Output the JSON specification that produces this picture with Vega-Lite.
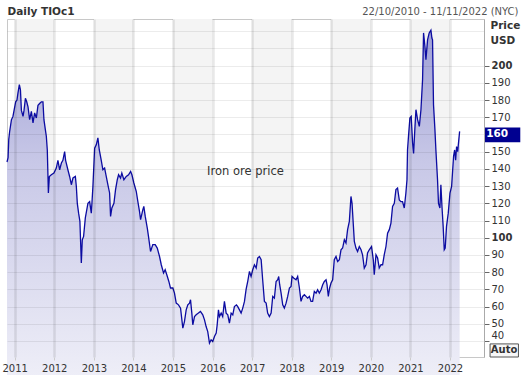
{
  "$schema": "https://vega.github.io/schema/vega-lite/v6.json",
  "width": 477,
  "height": 338,
  "autosize": {"type": "none"},
  "padding": {"left": 7, "top": 19, "right": 37, "bottom": 18},
  "background": "white",
  "config": {"font": "DejaVu Sans", "view": {"stroke": "#c8c8c8", "strokeWidth": 1}},
  "datasets": {
    "bands": [
      {"start": "2011-01-01", "end": "2012-01-01"},
      {"start": "2013-01-01", "end": "2014-01-01"},
      {"start": "2015-01-01", "end": "2016-01-01"},
      {"start": "2017-01-01", "end": "2018-01-01"},
      {"start": "2019-01-01", "end": "2020-01-01"},
      {"start": "2021-01-01", "end": "2022-01-01"}
    ],
    "prices": [
      {"date": "2010-10-22", "price": 144},
      {"date": "2010-11-01", "price": 146.5},
      {"date": "2010-11-07", "price": 157},
      {"date": "2010-11-16", "price": 162},
      {"date": "2010-12-02", "price": 168.6},
      {"date": "2010-12-16", "price": 170.5},
      {"date": "2011-01-10", "price": 179},
      {"date": "2011-01-22", "price": 180},
      {"date": "2011-01-31", "price": 184},
      {"date": "2011-02-13", "price": 189},
      {"date": "2011-02-23", "price": 186},
      {"date": "2011-03-04", "price": 174},
      {"date": "2011-03-19", "price": 170.5},
      {"date": "2011-03-28", "price": 174},
      {"date": "2011-04-10", "price": 181},
      {"date": "2011-04-22", "price": 179},
      {"date": "2011-05-04", "price": 176},
      {"date": "2011-05-19", "price": 168.6},
      {"date": "2011-06-04", "price": 173.4},
      {"date": "2011-06-19", "price": 166.7},
      {"date": "2011-07-04", "price": 172.5},
      {"date": "2011-07-20", "price": 169.6},
      {"date": "2011-08-04", "price": 177},
      {"date": "2011-08-19", "price": 178},
      {"date": "2011-09-04", "price": 179},
      {"date": "2011-09-19", "price": 179},
      {"date": "2011-09-28", "price": 168.6},
      {"date": "2011-10-11", "price": 162.8},
      {"date": "2011-10-20", "price": 159},
      {"date": "2011-10-29", "price": 151},
      {"date": "2011-11-08", "price": 126},
      {"date": "2011-11-17", "price": 135.6},
      {"date": "2011-12-05", "price": 136.6},
      {"date": "2011-12-29", "price": 137.6},
      {"date": "2012-01-20", "price": 140.5},
      {"date": "2012-02-04", "price": 145},
      {"date": "2012-02-20", "price": 139.5},
      {"date": "2012-03-07", "price": 143.4},
      {"date": "2012-03-21", "price": 145},
      {"date": "2012-04-06", "price": 150},
      {"date": "2012-04-15", "price": 145},
      {"date": "2012-05-06", "price": 139.5},
      {"date": "2012-05-22", "price": 135.6},
      {"date": "2012-06-07", "price": 130.8},
      {"date": "2012-06-22", "price": 134.7},
      {"date": "2012-07-14", "price": 135.6},
      {"date": "2012-07-23", "price": 129.8},
      {"date": "2012-08-01", "price": 120},
      {"date": "2012-08-13", "price": 114.3},
      {"date": "2012-08-25", "price": 109.5},
      {"date": "2012-09-07", "price": 85.3},
      {"date": "2012-09-16", "price": 98.8},
      {"date": "2012-09-28", "price": 100.8},
      {"date": "2012-10-14", "price": 111.5},
      {"date": "2012-11-07", "price": 120},
      {"date": "2012-11-23", "price": 121},
      {"date": "2012-12-08", "price": 114.3},
      {"date": "2012-12-14", "price": 120},
      {"date": "2012-12-23", "price": 129.8},
      {"date": "2013-01-08", "price": 152},
      {"date": "2013-01-23", "price": 154},
      {"date": "2013-02-07", "price": 158},
      {"date": "2013-02-20", "price": 151},
      {"date": "2013-03-10", "price": 145},
      {"date": "2013-03-25", "price": 139.5},
      {"date": "2013-04-10", "price": 140.5},
      {"date": "2013-04-25", "price": 135.6},
      {"date": "2013-05-10", "price": 130.8},
      {"date": "2013-05-26", "price": 126},
      {"date": "2013-06-04", "price": 112.4},
      {"date": "2013-06-16", "price": 117.3},
      {"date": "2013-07-05", "price": 120},
      {"date": "2013-07-20", "price": 128},
      {"date": "2013-08-05", "price": 133.7},
      {"date": "2013-08-17", "price": 136.6},
      {"date": "2013-09-04", "price": 134.7},
      {"date": "2013-09-16", "price": 137.6},
      {"date": "2013-10-05", "price": 133.7},
      {"date": "2013-10-27", "price": 135.6},
      {"date": "2013-11-17", "price": 136.6},
      {"date": "2013-12-06", "price": 138.5},
      {"date": "2013-12-18", "price": 136.6},
      {"date": "2014-01-05", "price": 131.8},
      {"date": "2014-01-27", "price": 127},
      {"date": "2014-02-11", "price": 121},
      {"date": "2014-02-26", "price": 115.3},
      {"date": "2014-03-08", "price": 110.5},
      {"date": "2014-03-29", "price": 116.3},
      {"date": "2014-04-07", "price": 118.2},
      {"date": "2014-04-20", "price": 112.4},
      {"date": "2014-05-09", "price": 105.6},
      {"date": "2014-05-20", "price": 100.8},
      {"date": "2014-06-08", "price": 92},
      {"date": "2014-06-29", "price": 96},
      {"date": "2014-07-21", "price": 96},
      {"date": "2014-08-09", "price": 94},
      {"date": "2014-08-30", "price": 89.1},
      {"date": "2014-09-15", "price": 84.3},
      {"date": "2014-10-06", "price": 79.5},
      {"date": "2014-10-21", "price": 81.4},
      {"date": "2014-11-05", "price": 78.5},
      {"date": "2014-11-24", "price": 74.6},
      {"date": "2014-12-09", "price": 70.8},
      {"date": "2014-12-31", "price": 70.8},
      {"date": "2015-01-15", "price": 67.8},
      {"date": "2015-01-31", "price": 62},
      {"date": "2015-02-21", "price": 61},
      {"date": "2015-03-12", "price": 59.1},
      {"date": "2015-04-02", "price": 47.5},
      {"date": "2015-04-17", "price": 51.3},
      {"date": "2015-05-03", "price": 58.1},
      {"date": "2015-05-18", "price": 61},
      {"date": "2015-06-03", "price": 62},
      {"date": "2015-06-12", "price": 64},
      {"date": "2015-06-24", "price": 56.2},
      {"date": "2015-07-03", "price": 49.4},
      {"date": "2015-07-19", "price": 54.2},
      {"date": "2015-08-03", "price": 55.2},
      {"date": "2015-08-24", "price": 56.2},
      {"date": "2015-09-12", "price": 57.2},
      {"date": "2015-10-03", "price": 55.2},
      {"date": "2015-10-19", "price": 52.3},
      {"date": "2015-11-03", "price": 48.4},
      {"date": "2015-11-18", "price": 45.5},
      {"date": "2015-12-04", "price": 38.8},
      {"date": "2015-12-19", "price": 40.7},
      {"date": "2016-01-03", "price": 39.7},
      {"date": "2016-01-19", "price": 42.6},
      {"date": "2016-02-04", "price": 44.6},
      {"date": "2016-02-13", "price": 49.4},
      {"date": "2016-02-25", "price": 58.1},
      {"date": "2016-03-05", "price": 54.2},
      {"date": "2016-03-21", "price": 56.2},
      {"date": "2016-04-04", "price": 54.2},
      {"date": "2016-04-20", "price": 63},
      {"date": "2016-05-06", "price": 56.2},
      {"date": "2016-05-21", "price": 55.2},
      {"date": "2016-06-05", "price": 50.4},
      {"date": "2016-06-21", "price": 56.2},
      {"date": "2016-07-06", "price": 55.2},
      {"date": "2016-07-21", "price": 60},
      {"date": "2016-08-09", "price": 61},
      {"date": "2016-08-21", "price": 60},
      {"date": "2016-09-06", "price": 58.1},
      {"date": "2016-09-21", "price": 56.2},
      {"date": "2016-10-06", "price": 59.1},
      {"date": "2016-10-22", "price": 63},
      {"date": "2016-11-06", "price": 70},
      {"date": "2016-11-22", "price": 75},
      {"date": "2016-12-07", "price": 80.4},
      {"date": "2016-12-22", "price": 77.5},
      {"date": "2017-01-06", "price": 81.4},
      {"date": "2017-01-22", "price": 84.3},
      {"date": "2017-02-07", "price": 82.4},
      {"date": "2017-02-21", "price": 88.2},
      {"date": "2017-03-09", "price": 89.1},
      {"date": "2017-03-25", "price": 87.2},
      {"date": "2017-04-08", "price": 75.6},
      {"date": "2017-04-24", "price": 63},
      {"date": "2017-05-10", "price": 62},
      {"date": "2017-05-24", "price": 56.2},
      {"date": "2017-06-09", "price": 54.2},
      {"date": "2017-06-25", "price": 56.2},
      {"date": "2017-07-10", "price": 65.9},
      {"date": "2017-07-25", "price": 64.9},
      {"date": "2017-08-10", "price": 74.6},
      {"date": "2017-08-25", "price": 75.6},
      {"date": "2017-09-03", "price": 77.5},
      {"date": "2017-09-12", "price": 72.7},
      {"date": "2017-09-25", "price": 67.8},
      {"date": "2017-10-10", "price": 61},
      {"date": "2017-10-25", "price": 59.1},
      {"date": "2017-11-10", "price": 62},
      {"date": "2017-11-25", "price": 65.9},
      {"date": "2017-12-11", "price": 70.8},
      {"date": "2017-12-26", "price": 71.7},
      {"date": "2018-01-04", "price": 77.5},
      {"date": "2018-01-19", "price": 76.6},
      {"date": "2018-02-10", "price": 75.6},
      {"date": "2018-02-25", "price": 77.5},
      {"date": "2018-03-13", "price": 70.8},
      {"date": "2018-03-28", "price": 63},
      {"date": "2018-04-12", "price": 65.9},
      {"date": "2018-04-28", "price": 66.9},
      {"date": "2018-05-13", "price": 65.9},
      {"date": "2018-05-28", "price": 64.9},
      {"date": "2018-06-13", "price": 65.9},
      {"date": "2018-06-28", "price": 63},
      {"date": "2018-07-13", "price": 63},
      {"date": "2018-07-29", "price": 68.8},
      {"date": "2018-08-14", "price": 67.8},
      {"date": "2018-08-28", "price": 69.8},
      {"date": "2018-09-13", "price": 67.8},
      {"date": "2018-09-29", "price": 69.8},
      {"date": "2018-10-14", "price": 72.7},
      {"date": "2018-10-29", "price": 74.6},
      {"date": "2018-11-14", "price": 75.6},
      {"date": "2018-11-23", "price": 72.7},
      {"date": "2018-12-05", "price": 65.9},
      {"date": "2018-12-17", "price": 70.8},
      {"date": "2018-12-30", "price": 73.7},
      {"date": "2019-01-14", "price": 75.6},
      {"date": "2019-01-29", "price": 87.2},
      {"date": "2019-02-14", "price": 89.1},
      {"date": "2019-03-01", "price": 86.2},
      {"date": "2019-03-17", "price": 87.2},
      {"date": "2019-04-01", "price": 93},
      {"date": "2019-04-16", "price": 94},
      {"date": "2019-05-02", "price": 98.8},
      {"date": "2019-05-17", "price": 96.9},
      {"date": "2019-06-01", "price": 104.7},
      {"date": "2019-06-17", "price": 109.5},
      {"date": "2019-07-02", "price": 124},
      {"date": "2019-07-12", "price": 120},
      {"date": "2019-07-21", "price": 110.5},
      {"date": "2019-08-02", "price": 97.9},
      {"date": "2019-08-17", "price": 94},
      {"date": "2019-09-01", "price": 92},
      {"date": "2019-09-17", "price": 94.9},
      {"date": "2019-10-03", "price": 93},
      {"date": "2019-10-17", "price": 90.1},
      {"date": "2019-11-02", "price": 82.4},
      {"date": "2019-11-18", "price": 84.3},
      {"date": "2019-12-02", "price": 91.1},
      {"date": "2019-12-18", "price": 93},
      {"date": "2020-01-08", "price": 94.9},
      {"date": "2020-01-24", "price": 87.2},
      {"date": "2020-02-02", "price": 78.5},
      {"date": "2020-02-18", "price": 90.1},
      {"date": "2020-03-04", "price": 88.2},
      {"date": "2020-03-19", "price": 82.4},
      {"date": "2020-04-04", "price": 84.3},
      {"date": "2020-04-19", "price": 84.3},
      {"date": "2020-05-04", "price": 90.1},
      {"date": "2020-05-20", "price": 94.9},
      {"date": "2020-06-04", "price": 102.7},
      {"date": "2020-06-20", "price": 104.7},
      {"date": "2020-07-05", "price": 108.5},
      {"date": "2020-07-20", "price": 118.2},
      {"date": "2020-08-05", "price": 120},
      {"date": "2020-08-20", "price": 128},
      {"date": "2020-09-04", "price": 128.9},
      {"date": "2020-09-20", "price": 122},
      {"date": "2020-10-05", "price": 121},
      {"date": "2020-10-20", "price": 121},
      {"date": "2020-11-05", "price": 117.3},
      {"date": "2020-11-20", "price": 126},
      {"date": "2020-11-30", "price": 133.7},
      {"date": "2020-12-05", "price": 151},
      {"date": "2020-12-14", "price": 158.9},
      {"date": "2020-12-27", "price": 169.6},
      {"date": "2021-01-08", "price": 170.5},
      {"date": "2021-01-21", "price": 155},
      {"date": "2021-01-30", "price": 149},
      {"date": "2021-02-12", "price": 164.7},
      {"date": "2021-02-21", "price": 174.4},
      {"date": "2021-03-08", "price": 168.6},
      {"date": "2021-03-24", "price": 164.7},
      {"date": "2021-04-08", "price": 174.4},
      {"date": "2021-04-23", "price": 191.9},
      {"date": "2021-05-02", "price": 219},
      {"date": "2021-05-15", "price": 211},
      {"date": "2021-05-24", "price": 203.5},
      {"date": "2021-06-08", "price": 215},
      {"date": "2021-06-23", "price": 219},
      {"date": "2021-07-09", "price": 220.6},
      {"date": "2021-07-18", "price": 216},
      {"date": "2021-07-24", "price": 215},
      {"date": "2021-08-02", "price": 177.3},
      {"date": "2021-08-15", "price": 162.8},
      {"date": "2021-08-24", "price": 151},
      {"date": "2021-09-08", "price": 133.7},
      {"date": "2021-09-17", "price": 120},
      {"date": "2021-09-30", "price": 117.3},
      {"date": "2021-10-09", "price": 130.8},
      {"date": "2021-10-19", "price": 118.2},
      {"date": "2021-10-30", "price": 106.6},
      {"date": "2021-11-09", "price": 93},
      {"date": "2021-11-18", "price": 94},
      {"date": "2021-11-30", "price": 106.6},
      {"date": "2021-12-16", "price": 114.3},
      {"date": "2022-01-01", "price": 126},
      {"date": "2022-01-16", "price": 129.8},
      {"date": "2022-01-25", "price": 138.5},
      {"date": "2022-02-03", "price": 147.3},
      {"date": "2022-02-13", "price": 151},
      {"date": "2022-02-22", "price": 145},
      {"date": "2022-03-03", "price": 153},
      {"date": "2022-03-13", "price": 150},
      {"date": "2022-03-22", "price": 156},
      {"date": "2022-03-31", "price": 161.8}
    ]
  },
  "resolve": {"axis": {"x": "independent", "y": "independent"}},
  "layer": [
    {
      "data": {"name": "bands"},
      "mark": {"type": "rect", "color": "#f4f4f4"},
      "encoding": {
        "x": {
          "field": "start", "type": "temporal",
          "scale": {"type": "utc", "domain": [{"year": 2010, "month": 10, "date": 22, "utc": true}, {"year": 2022, "month": 11, "date": 11, "utc": true}]},
          "axis": {
            "orient": "bottom", "format": "%Y", "formatType": "utc",
            "tickCount": {"interval": "year", "step": 1},
            "grid": true, "gridColor": "#000000", "gridOpacity": 0.09, "gridWidth": 2.5,
            "domain": false, "ticks": true, "tickSize": 3, "tickColor": "#cccccc",
            "labelColor": "#333333", "labelFontSize": 10, "labelPadding": 3,
            "labelFlush": false, "labelOverlap": false, "title": null, "zindex": 1
          }
        },
        "x2": {"field": "end"}
      }
    },
    {
      "data": {"name": "prices"},
      "mark": {
        "type": "area",
        "fill": {
          "gradient": "linear", "x1": 0, "y1": 0, "x2": 0, "y2": 1,
          "stops": [
            {"offset": 0, "color": "#9fa0d6"},
            {"offset": 0.35, "color": "#c8c8e7"},
            {"offset": 1, "color": "#f4f4fa"}
          ]
        }
      },
      "encoding": {
        "x": {
          "field": "date", "type": "temporal",
          "scale": {"type": "utc", "domain": [{"year": 2010, "month": 10, "date": 22, "utc": true}, {"year": 2022, "month": 11, "date": 11, "utc": true}]},
          "axis": {
            "orient": "top", "labels": false, "ticks": false, "domain": false, "grid": false,
            "title": "Daily TIOc1", "titleX": 0, "titleY": -5, "titleAlign": "left",
            "titleBaseline": "alphabetic", "titleFontSize": 10.5, "titleFontWeight": "bold", "titleColor": "#333333"
          }
        },
        "y": {
          "field": "price", "type": "quantitative",
          "scale": {"domain": [30.7, 227.1], "nice": false, "zero": false},
          "axis": {
            "orient": "right",
            "values": [40, 50, 60, 70, 80, 90, 100, 110, 120, 130, 140, 150, 160, 170, 180, 190, 200, 210, 220],
            "grid": true, "gridColor": "#000000", "gridOpacity": 0.075, "gridWidth": 1,
            "domain": true, "domainColor": "#aaaaaa",
            "ticks": true, "tickSize": 5, "tickColor": "#666666",
            "tickOpacity": {"condition": {"test": "datum.value > 200 || datum.value == 160", "value": 0}, "value": 1},
            "labelColor": "#333333", "labelFontSize": 10, "labelPadding": 2,
            "labelFontWeight": {"condition": {"test": "datum.value == 100 || datum.value == 200", "value": "bold"}, "value": "normal"},
            "labelOpacity": {"condition": {"test": "datum.value > 200 || datum.value == 160", "value": 0}, "value": 1},
            "labelBaseline": {"condition": {"test": "datum.value == 40", "value": "bottom"}, "value": "middle"},
            "labelOverlap": false, "labelFlush": false,
            "title": ["Price", "USD"], "titleAngle": 0, "titleAlign": "left", "titleBaseline": "top",
            "titleX": 6, "titleY": 1, "titleFontSize": 10.5, "titleFontWeight": "bold",
            "titleColor": "#333333", "titleLineHeight": 15, "zindex": 1
          }
        }
      }
    },
    {
      "data": {"name": "prices"},
      "mark": {"type": "line", "color": "#0c0ca2", "strokeWidth": 1.3},
      "encoding": {
        "x": {
          "field": "date", "type": "temporal",
          "scale": {"type": "utc", "domain": [{"year": 2010, "month": 10, "date": 22, "utc": true}, {"year": 2022, "month": 11, "date": 11, "utc": true}]},
          "axis": {
            "orient": "top", "labels": false, "ticks": false, "domain": false, "grid": false,
            "title": "22/10/2010 - 11/11/2022 (NYC)", "titleX": 511, "titleY": -5, "titleAlign": "right",
            "titleBaseline": "alphabetic", "titleFontSize": 10, "titleFontWeight": "normal", "titleColor": "#555555"
          }
        },
        "y": {"field": "price", "type": "quantitative", "scale": {"domain": [30.7, 227.1], "nice": false, "zero": false}, "axis": null}
      }
    },
    {
      "data": {"values": [{"date": "2016-10-31", "price": 138.2, "label": "Iron ore price"}]},
      "mark": {"type": "text", "fontSize": 11.5, "color": "#333333", "align": "center", "baseline": "middle"},
      "encoding": {
        "x": {"field": "date", "type": "temporal", "scale": {"type": "utc", "domain": [{"year": 2010, "month": 10, "date": 22, "utc": true}, {"year": 2022, "month": 11, "date": 11, "utc": true}]}, "axis": null},
        "y": {"field": "price", "type": "quantitative", "scale": {"domain": [30.7, 227.1], "nice": false, "zero": false}, "axis": null},
        "text": {"field": "label"}
      }
    },
    {
      "data": {"values": [{"label": "160"}]},
      "mark": {"type": "rect", "color": "#000090"},
      "encoding": {
        "x": {"datum": {"year": 2022, "month": 11, "date": 13, "utc": true}, "type": "temporal", "scale": {"type": "utc", "domain": [{"year": 2010, "month": 10, "date": 22, "utc": true}, {"year": 2022, "month": 11, "date": 11, "utc": true}]}, "axis": null},
        "x2": {"datum": {"year": 2023, "month": 10, "date": 12, "utc": true}},
        "y": {"datum": 164.0, "type": "quantitative", "scale": {"domain": [30.7, 227.1], "nice": false, "zero": false}, "axis": null},
        "y2": {"datum": 155.5}
      }
    },
    {
      "data": {"values": [{"label": "160", "price": 160}]},
      "mark": {"type": "text", "fontSize": 10.5, "fontWeight": "bold", "color": "#ffffff", "align": "left", "baseline": "middle", "dx": 2},
      "encoding": {
        "x": {"datum": {"year": 2022, "month": 11, "date": 13, "utc": true}, "type": "temporal", "scale": {"type": "utc", "domain": [{"year": 2010, "month": 10, "date": 22, "utc": true}, {"year": 2022, "month": 11, "date": 11, "utc": true}]}, "axis": null},
        "y": {"field": "price", "type": "quantitative", "scale": {"domain": [30.7, 227.1], "nice": false, "zero": false}, "axis": null},
        "text": {"field": "label"}
      }
    },
    {
      "data": {"values": [{"label": "Auto"}]},
      "mark": {"type": "rect", "fill": "#f7f7f7", "stroke": "#555555", "strokeWidth": 1},
      "encoding": {
        "x": {"datum": {"year": 2023, "month": 1, "date": 6, "utc": true}, "type": "temporal", "scale": {"type": "utc", "domain": [{"year": 2010, "month": 10, "date": 22, "utc": true}, {"year": 2022, "month": 11, "date": 11, "utc": true}]}, "axis": null},
        "x2": {"datum": {"year": 2023, "month": 9, "date": 25, "utc": true}},
        "y": {"datum": 38.3, "type": "quantitative", "scale": {"domain": [30.7, 227.1], "nice": false, "zero": false}, "axis": null},
        "y2": {"datum": 30.7}
      }
    },
    {
      "data": {"values": [{"label": "Auto", "date": "2023-05-15", "price": 34.5}]},
      "mark": {"type": "text", "fontSize": 10, "fontWeight": "bold", "color": "#333333", "align": "center", "baseline": "middle"},
      "encoding": {
        "x": {"field": "date", "type": "temporal", "scale": {"type": "utc", "domain": [{"year": 2010, "month": 10, "date": 22, "utc": true}, {"year": 2022, "month": 11, "date": 11, "utc": true}]}, "axis": null},
        "y": {"field": "price", "type": "quantitative", "scale": {"domain": [30.7, 227.1], "nice": false, "zero": false}, "axis": null},
        "text": {"field": "label"}
      }
    }
  ]
}
